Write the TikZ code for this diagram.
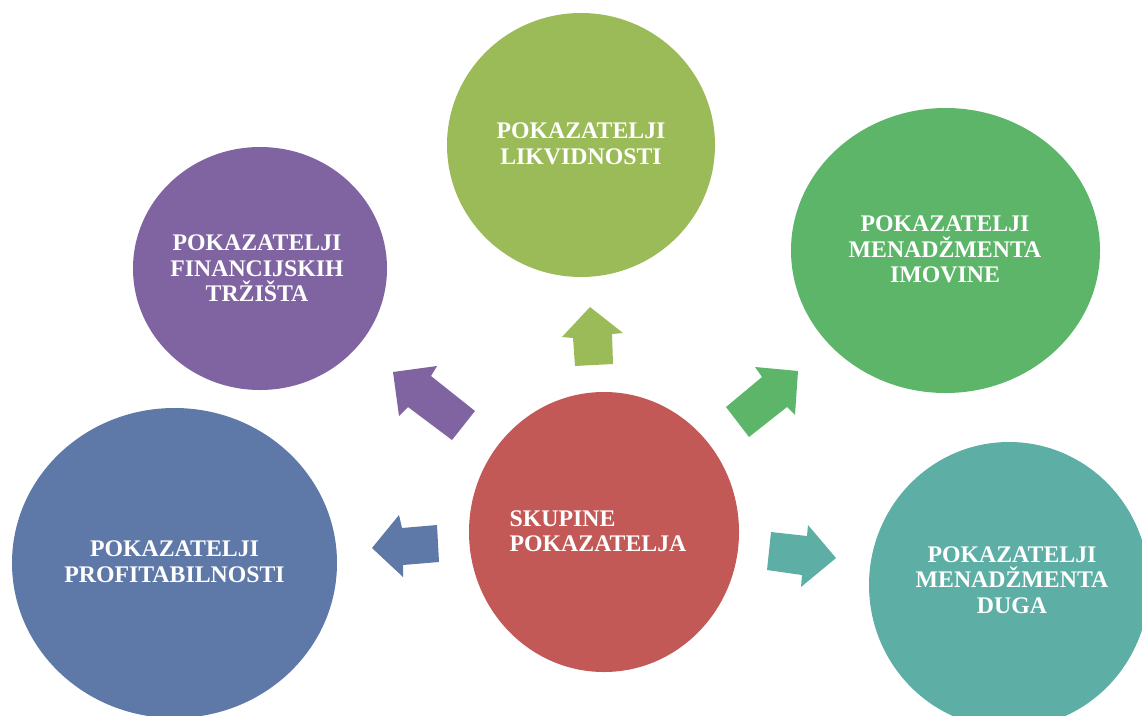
\documentclass[tikz,border=0pt]{standalone}
\usepackage{fontspec}
\setmainfont{Liberation Serif}
\usetikzlibrary{shapes.geometric}
\definecolor{cblue}{HTML}{5E78A8}
\definecolor{cteal}{HTML}{5DAFA5}
\definecolor{cgreen}{HTML}{5CB568}
\definecolor{clgreen}{HTML}{9BBB59}
\definecolor{cpurple}{HTML}{8064A2}
\definecolor{cred}{HTML}{C35956}
\begin{document}
\begin{tikzpicture}[x=1pt,y=-1pt,
  blob/.style={ellipse,fill=#1,draw=none,inner sep=0pt},
  lab/.style={text=white,font=\fontsize{23.8}{25.5}\selectfont\bfseries,align=center,inner sep=0pt},
  arr/.style={fill=#1,draw=none}]
\useasboundingbox (0,0) rectangle (1142,715);
\clip (0,0) rectangle (1142,715);
% circles
\node[blob=clgreen,minimum width=268pt,minimum height=264pt] (liq) at (581,145) {};
\node[blob=cpurple,minimum width=254pt,minimum height=243pt] (fin) at (260,268.5) {};
\node[blob=cgreen,minimum width=309pt,minimum height=285pt] (imo) at (945.5,250.5) {};
\node[blob=cblue,minimum width=325pt,minimum height=310pt] (pro) at (174.5,563) {};
\node[blob=cred,minimum width=270pt,minimum height=280pt] (sku) at (604,532) {};
\node[blob=cteal,minimum width=280pt,minimum height=286pt] (dug) at (1009,585) {};
% labels
\node[lab] (tliq) at (581,143.7) {POKAZATELJI\\LIKVIDNOSTI};
\node[lab] (tfin) at (257,268.7) {POKAZATELJI\\FINANCIJSKIH\\TRŽIŠTA};
\node[lab] (timo) at (945,249.7) {POKAZATELJI\\MENADŽMENTA\\IMOVINE};
\node[lab] (tpro) at (174.5,561.5) {POKAZATELJI\\PROFITABILNOSTI};
\node[lab,align=left] (tsku) at (598,531) {SKUPINE\\POKAZATELJA};
\node[lab] (tdug) at (1012,580) {POKAZATELJI\\MENADŽMENTA\\DUGA};
% arrows
\fill[arr=cpurple] (393,372) -- (437,366) -- (431,376) -- (475,411) -- (452,440) -- (408,407) -- (399,416) -- cycle;
\fill[arr=clgreen] (590,307) -- (623,333) -- (612,334) -- (613,364) -- (575,366) -- (573,338) -- (562,337) -- cycle;
\fill[arr=cgreen] (798,371) -- (755,367) -- (762,377) -- (726,407) -- (749,437) -- (787,407) -- (795,415) -- cycle;
\fill[arr=cblue] (372,548) -- (399,515) -- (402,528) -- (437,525) -- (439,562) -- (403,565) -- (403,577) -- cycle;
\fill[arr=cteal] (771,532) -- (807,536) -- (808,525) -- (836,558) -- (801,587) -- (802,575) -- (767,570) -- cycle;
\end{tikzpicture}
\end{document}
